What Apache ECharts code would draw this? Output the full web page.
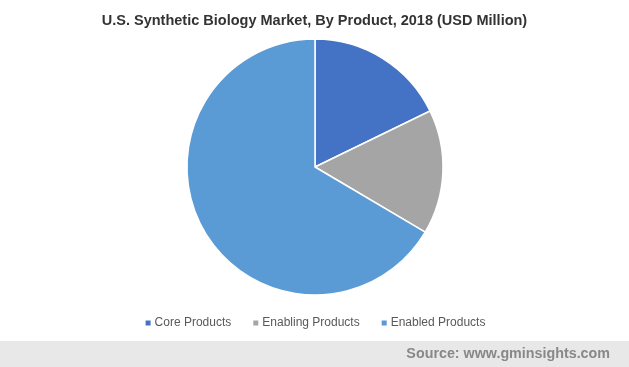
<!DOCTYPE html>
<html><head><meta charset="utf-8">
<script src="https://cdn.jsdelivr.net/npm/echarts@6/dist/echarts.min.js"></script>
<style>html,body{margin:0;padding:0;background:#fff}#c{width:629px;height:367px}</style>
</head><body><div id="c"></div>
<script>
const categories = ['Core Products', 'Enabling Products', 'Enabled Products'];
const values = [17.8, 15.7, 66.5];
const colors = ['#4472C4', '#A5A5A5', '#5B9BD5'];
const titleText = 'U.S. Synthetic Biology Market, By Product, 2018 (USD Million)';
const sourceText = 'Source: www.gminsights.com';

const chart = echarts.init(document.getElementById('c'));
chart.setOption({
  animation: false,
  title: {
    text: titleText, left: 'center', top: 8,
    textStyle: { fontFamily: 'Liberation Sans', fontSize: 14.5, fontWeight: 'bold', color: '#333333' }
  },
  legend: {
    data: categories, top: 312, left: 'center', itemWidth: 7, itemHeight: 7, itemGap: 20,
    icon: 'rect',
    textStyle: { fontFamily: 'Liberation Sans', fontSize: 12, color: '#595959', padding: [0,0,0,-2] }
  },
  graphic: [
    { type: 'rect', left: 0, top: 341, shape: { width: 629, height: 26 }, style: { fill: '#E8E8E8' }, silent: true },
    { type: 'text', right: 19, top: 347, style: { text: sourceText, fontFamily: 'Liberation Sans', fontSize: 14.3, fontWeight: 'bold', fill: '#888888' } }
  ],
  series: [{
    type: 'pie', center: [315, 167], radius: 128, startAngle: 90, clockwise: true,
    label: { show: false }, labelLine: { show: false },
    itemStyle: { borderColor: '#fff', borderWidth: 1.5 },
    data: categories.map((n, i) => ({ name: n, value: values[i], itemStyle: { color: colors[i] } }))
  }]
});
</script></body></html>
